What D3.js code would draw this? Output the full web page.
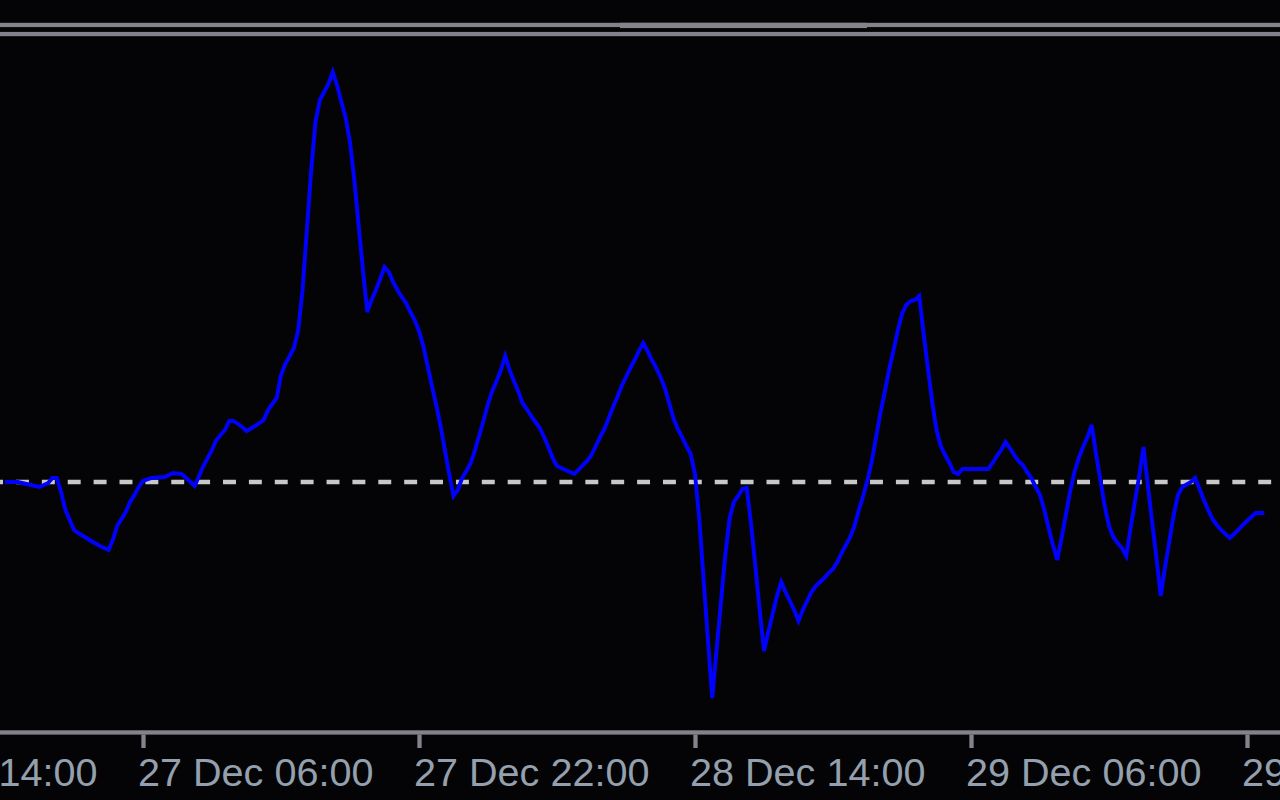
<!DOCTYPE html>
<html>
<head>
<meta charset="utf-8">
<script src="https://cdn.jsdelivr.net/npm/d3@7"></script>
<style>
  html, body { margin: 0; padding: 0; background: #040407; overflow: hidden; }
  svg { display: block; }
</style>
</head>
<body>
<svg id="chart" width="1280" height="800"></svg>
<script>
// ---- data ----
const times = [
  "12-26 22:00","12-26 22:45","12-26 23:30","12-27 00:00","12-27 00:30","12-27 00:45","12-27 01:00","12-27 01:15",
  "12-27 01:30","12-27 02:00","12-27 02:15","12-27 03:00","12-27 03:30","12-27 04:00","12-27 04:15","12-27 04:30",
  "12-27 05:00","12-27 05:15","12-27 05:30","12-27 05:45","12-27 06:00","12-27 06:30","12-27 07:15","12-27 07:45",
  "12-27 08:15","12-27 08:30","12-27 08:45","12-27 09:00","12-27 09:15","12-27 09:30","12-27 10:00","12-27 10:15",
  "12-27 10:45","12-27 11:00","12-27 11:15","12-27 11:45","12-27 12:00","12-27 12:30","12-27 13:00","12-27 13:15",
  "12-27 13:45","12-27 14:00","12-27 14:15","12-27 14:45","12-27 15:00","12-27 15:15","12-27 15:30","12-27 15:45",
  "12-27 16:00","12-27 16:15","12-27 16:30","12-27 16:45","12-27 17:00","12-27 17:15","12-27 17:30","12-27 17:45",
  "12-27 18:00","12-27 18:15","12-27 18:30","12-27 18:45","12-27 19:00","12-27 19:15","12-27 19:30","12-27 19:45",
  "12-27 20:00","12-27 20:15","12-27 20:30","12-27 20:45","12-27 21:00","12-27 21:15","12-27 21:30","12-27 21:45",
  "12-27 22:00","12-27 22:15","12-27 22:30","12-27 22:45","12-27 23:00","12-27 23:15","12-27 23:30","12-27 23:45",
  "12-28 00:00","12-28 00:15","12-28 00:30","12-28 00:45","12-28 01:00","12-28 01:15","12-28 01:30","12-28 01:45",
  "12-28 02:00","12-28 02:15","12-28 02:30","12-28 02:45","12-28 03:00","12-28 03:15","12-28 03:30","12-28 03:45",
  "12-28 04:00","12-28 04:15","12-28 04:30","12-28 04:45","12-28 05:00","12-28 05:15","12-28 05:30","12-28 05:45",
  "12-28 06:00","12-28 06:30","12-28 07:00","12-28 07:15","12-28 07:30","12-28 07:45","12-28 08:00","12-28 08:15",
  "12-28 08:30","12-28 08:45","12-28 09:00","12-28 09:15","12-28 09:30","12-28 09:45","12-28 10:00","12-28 10:15",
  "12-28 10:30","12-28 10:45","12-28 11:00","12-28 11:15","12-28 11:30","12-28 11:45","12-28 12:00","12-28 12:15",
  "12-28 12:30","12-28 12:45","12-28 13:00","12-28 13:15","12-28 13:30","12-28 13:45","12-28 14:00","12-28 14:15",
  "12-28 14:30","12-28 14:45","12-28 15:00","12-28 15:15","12-28 15:30","12-28 15:45","12-28 16:00","12-28 16:15",
  "12-28 16:30","12-28 16:45","12-28 17:00","12-28 17:15","12-28 17:30","12-28 17:45","12-28 18:00","12-28 18:15",
  "12-28 18:30","12-28 18:45","12-28 19:00","12-28 19:15","12-28 19:30","12-28 19:45","12-28 20:00","12-28 20:15",
  "12-28 20:30","12-28 20:45","12-28 21:00","12-28 21:15","12-28 21:30","12-28 21:45","12-28 22:00","12-28 22:15",
  "12-28 22:30","12-28 22:45","12-28 23:00","12-28 23:15","12-28 23:30","12-28 23:45",
  "12-29 00:00","12-29 00:15","12-29 00:30","12-29 00:45","12-29 01:00","12-29 01:15","12-29 01:30","12-29 01:45",
  "12-29 02:00","12-29 02:15","12-29 02:30","12-29 02:45","12-29 03:00","12-29 03:15","12-29 03:30","12-29 03:45",
  "12-29 04:00","12-29 04:15","12-29 04:30","12-29 04:45","12-29 05:00","12-29 05:15","12-29 05:30","12-29 07:00",
  "12-29 07:15","12-29 07:30","12-29 07:45","12-29 08:00","12-29 08:15","12-29 08:30","12-29 08:45","12-29 09:00",
  "12-29 09:15","12-29 09:30","12-29 09:45","12-29 10:00","12-29 10:15","12-29 10:30","12-29 10:45","12-29 11:00",
  "12-29 11:15","12-29 11:30","12-29 11:45","12-29 12:00","12-29 12:15","12-29 12:30","12-29 12:45","12-29 13:00",
  "12-29 13:15","12-29 13:30","12-29 13:45","12-29 14:00","12-29 14:15","12-29 14:30","12-29 14:45","12-29 15:00",
  "12-29 15:15","12-29 15:30","12-29 15:45","12-29 16:00","12-29 16:15","12-29 16:30","12-29 16:45","12-29 17:00",
  "12-29 17:15","12-29 17:30","12-29 17:45","12-29 18:00","12-29 18:15","12-29 18:45","12-29 19:00","12-29 19:15",
  "12-29 19:30","12-29 19:45","12-29 20:00","12-29 20:15","12-29 20:30","12-29 20:45","12-29 21:00","12-29 21:15",
  "12-29 21:30","12-29 21:45","12-29 22:00","12-29 22:15","12-29 22:30","12-29 23:00"
];
const values = [
  0, 0, -0.75, -1.25, -0.25, 1, 1, -2.5,
  -7, -12, -12.75, -14.75, -16, -17, -14.5, -11,
  -7.5, -5, -3.25, -1.25, 0.25, 1, 1.25, 2.25,
  2, 1, 0, -1, 1.5, 4, 8, 10.5,
  13, 15.25, 15.25, 13.75, 12.75, 14, 15.5, 18,
  21, 26.75, 29.5, 33.5, 38, 48, 63, 78,
  90, 95.5, 97.5, 99.5, 102.5, 99.25, 95, 91,
  85, 75.5, 64.25, 53, 42.5, 45.5, 48, 50.75,
  53.75, 52.5, 50, 48, 46.25, 44.75, 42.5, 40.5,
  37.75, 34, 29, 24, 19.25, 14, 8, 2,
  -3.5, -2, 1, 2.75, 4.75, 8, 11.75, 15.5,
  19.5, 22.75, 25.25, 28, 31.5, 28, 25.25, 22.75,
  19.75, 18.25, 16.5, 15, 13.5, 11.25, 8.75, 6,
  4, 3, 2, 3, 4.25, 5.25, 6.75, 9,
  11.25, 13.25, 16, 18.75, 21.25, 24, 26.25, 28.5,
  30.5, 32.75, 34.75, 32.75, 30.5, 28.5, 26.25, 23.5,
  19.75, 16, 13.25, 11.25, 9, 7, 2, -9.25,
  -24.5, -39.5, -54, -42, -30.25, -18.5, -9.25, -5,
  -3.5, -1.75, -1.5, -10.5, -21, -32, -42.25, -37.5,
  -33, -28.5, -25, -27.5, -29.75, -32, -34.75, -32,
  -29.75, -27.5, -26, -25, -24, -22.75, -21.75, -20,
  -17.75, -15.75, -13.75, -11, -7, -3.5,
  0.5, 5.25, 11.25, 17.25, 22.5, 28, 32.75, 37.75,
  42, 44.25, 45.25, 45.5, 46.5, 37.25, 28.5, 20,
  13, 9, 6.75, 4.75, 2.5, 2, 3.25, 3.25,
  4.75, 6.5, 8, 10, 8.5, 6.75, 5.25, 4.25,
  2.5, 1, -1.25, -3.25, -7, -11.5, -15.75, -19.5,
  -14, -8.25, -2.25, 2.5, 6, 8.75, 11.25, 14.25,
  7, 0.5, -6, -11, -13.75, -15.25, -16.5, -18.5,
  -11.5, -5, 1.5, 8.75, -0.75, -10, -19, -28.5,
  -21.25, -14.75, -8.25, -3.25, -1.25, 0, 1, -1.75,
  -4.5, -7, -9.25, -10.75, -12, -13, -14, -13,
  -12, -10.75, -9.75, -8.75, -7.75, -7.75
];
const tickLabels = ["26 Dec 14:00", "27 Dec 06:00", "27 Dec 22:00", "28 Dec 14:00", "29 Dec 06:00", "29 Dec 22:00"];
const levelValue = 0;            // dashed reference level
const valueDomain = [-62, 110.5]; // indicator window min / max

// ---- setup ----
const W = 1280, H = 800;
const parseData = d3.timeParse("%m-%d %H:%M");
const parseTick = d3.timeParse("%d %b %H:%M");
const fmtTick = d3.timeFormat("%d %b %H:%M");
const data = times.map((t, i) => ({ t: parseData(t), v: values[i] }));
const tickTimes = tickLabels.map(parseTick);

const svg = d3.select("#chart");
const frame = "#83838b";

svg.append("rect").attr("width", W).attr("height", H).attr("fill", "#040407");

// x: scale anchored on the second and last visible tick positions
const x = d3.scaleTime()
  .domain([tickTimes[1], tickTimes[5]])
  .range([143, 1247]);
const y = d3.scaleLinear().domain(valueDomain).range([730, 40]);

// top frame lines
svg.append("rect").attr("x", 0).attr("y", 22.8).attr("width", W).attr("height", 4.3).attr("fill", frame);
svg.append("rect").attr("x", 620).attr("y", 22.8).attr("width", 247).attr("height", 5.3).attr("fill", frame);
svg.append("rect").attr("x", 0).attr("y", 31.9).attr("width", W).attr("height", 4.3).attr("fill", frame);

// dashed level line
svg.append("line")
  .attr("x1", -9.9).attr("x2", W)
  .attr("y1", y(levelValue)).attr("y2", y(levelValue))
  .attr("stroke", "#c8c8c8")
  .attr("stroke-width", 4.3)
  .attr("stroke-dasharray", "12.94,12.94");

// indicator line
const line = d3.line().x(d => x(d.t)).y(d => y(d.v));
svg.append("path")
  .datum(data)
  .attr("d", line)
  .attr("fill", "none")
  .attr("stroke", "#0000ff")
  .attr("stroke-width", 3.9)
  .attr("stroke-linejoin", "miter")
  .attr("stroke-linecap", "butt");

// bottom axis
svg.append("rect").attr("x", 0).attr("y", 730.3).attr("width", W).attr("height", 4.3).attr("fill", frame);

const axis = d3.axisBottom(x)
  .tickValues(tickTimes)
  .tickFormat(fmtTick)
  .tickSize(13.5)
  .tickPadding(0);

const gAxis = svg.append("g").attr("transform", "translate(0,734.5)").call(axis);
gAxis.select(".domain").remove();
gAxis.selectAll(".tick line").attr("stroke", frame).attr("stroke-width", 4.3);
gAxis.selectAll(".tick text")
  .attr("fill", "#94a0ad")
  .attr("font-family", "'Liberation Sans', Arial, sans-serif")
  .attr("font-size", 39.6)
  .attr("text-anchor", "start")
  .attr("x", -5.5)
  .attr("y", 51.5)
  .attr("dy", 0);
</script>
</body>
</html>
